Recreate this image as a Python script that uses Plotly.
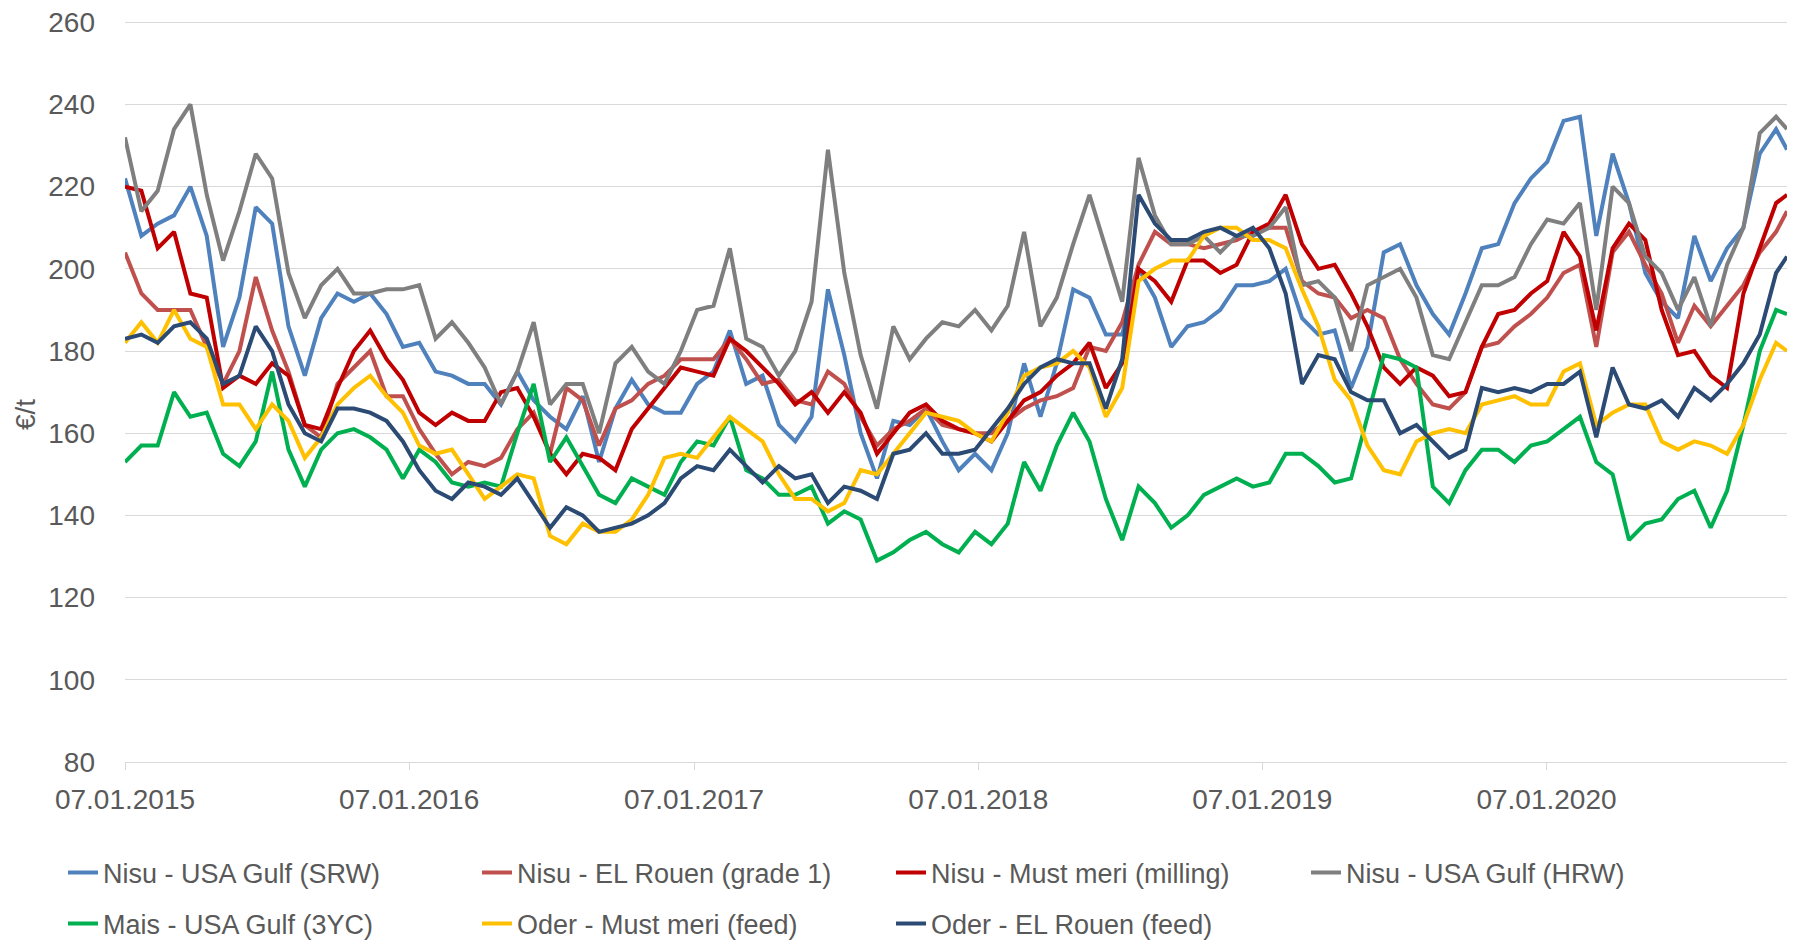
import pandas as pd
import plotly.graph_objects as go

# Dates: every third week from 07.01.2015, plus last observation
dates = list(pd.date_range("2015-01-07", periods=102, freq="21D").strftime("%Y-%m-%d")) + ["2020-11-11"]

srw_usa_gulf = [222, 208, 211, 213, 220, 208, 181, 193, 215, 211, 186, 174, 188, 194, 192, 194, 189, 181,
                182, 175, 174, 172, 172, 167, 175, 168, 164, 161, 169, 153, 166, 173, 167, 165, 165,
                172, 175, 185, 172, 174, 162, 158, 164, 195, 179, 160, 149, 163, 162, 166, 158, 151,
                155, 151, 160, 177, 164, 177, 195, 193, 184, 184, 200, 193, 181, 186, 187, 190, 196,
                196, 197, 200, 188, 184, 185, 171, 181, 204, 206, 196, 189, 184, 194, 205, 206, 216,
                222, 226, 236, 237, 208, 228, 216, 199, 192, 188, 208, 197, 205, 210, 228, 234,
                229]

rouen_grade1 = [204, 194, 190, 190, 190, 181, 172, 180, 198, 185, 175, 162, 159, 172, 176, 180, 169, 169,
                161, 155, 150, 153, 152, 154, 161, 165, 155, 171, 168, 157, 166, 168, 172, 174, 178,
                178, 178, 183, 178, 172, 173, 168, 167, 175, 172, 164, 157, 161, 163, 166, 162, 161,
                160, 160, 163, 166, 168, 169, 171, 181, 180, 187, 201, 209, 206, 206, 205, 206, 207,
                209, 210, 210, 197, 194, 193, 188, 190, 188, 178, 172, 167, 166, 170, 181, 182, 186,
                189, 193, 199, 201, 181, 204, 209, 201, 194, 182, 191, 186, 191, 196, 204, 209,
                214]

must_meri_milling = [220, 219, 205, 209, 194, 193, 171, 174, 172, 177, 174, 162, 161, 171, 180, 185, 178, 173,
                     165, 162, 165, 163, 163, 170, 171, 164, 155, 150, 155, 154, 151, 161, 166, 171, 176,
                     175, 174, 183, 180, 176, 172, 167, 170, 165, 170, 165, 155, 160, 165, 167, 163, 161,
                     160, 158, 163, 168, 170, 174, 177, 182, 171, 177, 200, 197, 192, 202, 202, 199, 201,
                     209, 211, 218, 206, 200, 201, 194, 186, 176, 172, 176, 174, 169, 170, 181, 189, 190,
                     194, 197, 209, 203, 185, 205, 211, 207, 190, 179, 180, 174, 171, 194, 205, 216,
                     218]

hrw_usa_gulf = [232, 214, 219, 234, 240, 218, 202, 214, 228, 222, 199, 188, 196, 200, 194, 194, 195, 195,
                196, 183, 187, 182, 176, 167, 175, 187, 167, 172, 172, 160, 177, 181, 175, 172, 180,
                190, 191, 205, 183, 181, 174, 180, 192, 229, 199, 179, 166, 186, 178, 183, 187, 186,
                190, 185, 191, 209, 186, 193, 206, 218, 205, 192, 227, 213, 206, 206, 208, 204, 208,
                208, 210, 215, 196, 197, 193, 180, 196, 198, 200, 193, 179, 178, 187, 196, 196, 198,
                206, 212, 211, 216, 190, 220, 216, 203, 199, 190, 198, 186, 201, 210, 233, 237,
                234]

mais_usa_gulf = [153, 157, 157, 170, 164, 165, 155, 152, 158, 175, 156, 147, 156, 160, 161, 159, 156, 149,
                 156, 153, 148, 147, 148, 147, 160, 172, 153, 159, 152, 145, 143, 149, 147, 145, 153,
                 158, 157, 164, 151, 149, 145, 145, 147, 138, 141, 139, 129, 131, 134, 136, 133, 131,
                 136, 133, 138, 153, 146, 157, 165, 158, 144, 134, 147, 143, 137, 140, 145, 147, 149,
                 147, 148, 155, 155, 152, 148, 149, 164, 179, 178, 176, 147, 143, 151, 156, 156, 153,
                 157, 158, 161, 164, 153, 150, 134, 138, 139, 144, 146, 137, 146, 162, 180, 190,
                 189]

oder_must_meri = [182, 187, 182, 190, 183, 181, 167, 167, 161, 167, 163, 154, 159, 167, 171, 174, 169, 165,
                  157, 155, 156, 150, 144, 147, 150, 149, 135, 133, 138, 136, 136, 139, 145, 154, 155,
                  154, 159, 164, 161, 158, 150, 144, 144, 141, 143, 151, 150, 155, 160, 165, 164, 163,
                  160, 158, 165, 174, 176, 177, 180, 176, 164, 171, 197, 200, 202, 202, 208, 210, 210,
                  207, 207, 205, 195, 186, 173, 168, 157, 151, 150, 158, 160, 161, 160, 167, 168, 169,
                  167, 167, 175, 177, 162, 165, 167, 167, 158, 156, 158, 157, 155, 162, 173, 182,
                  180]

oder_rouen = [183, 184, 182, 186, 187, 183, 172, 174, 186, 180, 167, 160, 158, 166, 166, 165, 163, 158,
              151, 146, 144, 148, 147, 145, 149, 143, 137, 142, 140, 136, 137, 138, 140, 143, 149,
              152, 151, 156, 152, 148, 152, 149, 150, 143, 147, 146, 144, 155, 156, 160, 155, 155,
              156, 161, 166, 172, 176, 178, 177, 177, 166, 178, 218, 211, 207, 207, 209, 210, 208,
              210, 205, 194, 172, 179, 178, 170, 168, 168, 160, 162, 158, 154, 156, 171, 170, 171,
              170, 172, 172, 175, 159, 176, 167, 166, 168, 164, 171, 168, 172, 177, 184, 199,
              203]

names = ["Nisu - USA Gulf (SRW)", "Nisu - EL Rouen (grade 1)", "Nisu - Must meri (milling)",
         "Nisu - USA Gulf (HRW)", "Mais - USA Gulf (3YC)", "Oder - Must meri (feed)",
         "Oder - EL Rouen (feed)"]
values = [srw_usa_gulf, rouen_grade1, must_meri_milling, hrw_usa_gulf,
          mais_usa_gulf, oder_must_meri, oder_rouen]
colors = ["#4F81BD", "#C0504D", "#C00000", "#7F7F7F", "#00B050", "#FFC000", "#2B4A74"]

y_ticks = [80, 100, 120, 140, 160, 180, 200, 220, 240, 260]
tick_dates = ["2015-01-07", "2016-01-07", "2017-01-07", "2018-01-07", "2019-01-07", "2020-01-07"]
tick_text = ["07.01.2015", "07.01.2016", "07.01.2017", "07.01.2018", "07.01.2019", "07.01.2020"]

FONT = "Liberation Sans, Arial, sans-serif"
TXT = "#595959"

# Figure is drawn 8px inset by the page's body margin
OFF = 8
W, H = 1790, 941 - OFF

# legend slot positions in the page (left of item, row centre)
slot_x = [63, 477, 891, 1306, 63, 477, 891]
slot_y = [873, 873, 873, 873, 924, 924, 924]

fig = go.Figure()
layout_legends = {}
for i, (name, vals, color) in enumerate(zip(names, values, colors)):
    key = "legend" if i == 0 else f"legend{i + 1}"
    fig.add_trace(go.Scatter(
        x=dates, y=vals, name=name, mode="lines",
        line=dict(color=color, width=4),
        legend=key,
    ))
    layout_legends[key] = dict(
        orientation="h", xref="container", yref="container",
        xanchor="left", yanchor="middle",
        x=(slot_x[i] - OFF) / W, y=1 - (slot_y[i] - OFF) / H,
        font=dict(family=FONT, size=27, color=TXT),
        bgcolor="rgba(0,0,0,0)",
    )

fig.update_layout(
    width=W, height=H,
    margin=dict(l=125 - OFF, r=W - (1787 - OFF), t=21 - OFF, b=H - (762 - OFF), autoexpand=False),
    paper_bgcolor="white", plot_bgcolor="white",
    font=dict(family=FONT, size=28, color=TXT),
    showlegend=True,
    xaxis=dict(
        type="date",
        range=["2015-01-07", "2020-11-11"],
        tickmode="array", tickvals=tick_dates, ticktext=tick_text,
        ticks="outside", ticklen=7, tickcolor="#D9D9D9", tickwidth=1,
        showgrid=False, showline=True, linecolor="#D9D9D9", linewidth=1,
        tickfont=dict(family=FONT, size=28, color=TXT),
        ticklabelstandoff=5, ticklabeloverflow="allow",
        zeroline=False, automargin=False,
    ),
    yaxis=dict(
        range=[80, 260.3],
        tickmode="array", tickvals=y_ticks, ticktext=[str(v) for v in y_ticks],
        showgrid=True, gridcolor="#D9D9D9", gridwidth=1,
        showline=False, zeroline=False, ticks="",
        tickfont=dict(family=FONT, size=28, color=TXT),
        ticklabelstandoff=29, ticklabeloverflow="allow", automargin=False,
    ),
    annotations=[dict(
        text="€/t", textangle=-90, showarrow=False,
        xref="paper", yref="paper",
        x=(25 - 125) / 1662, y=(762 - 415) / 741,
        xanchor="center", yanchor="middle",
        font=dict(family=FONT, size=28, color=TXT),
    )],
    **layout_legends,
)

fig.write_html("out.html")
